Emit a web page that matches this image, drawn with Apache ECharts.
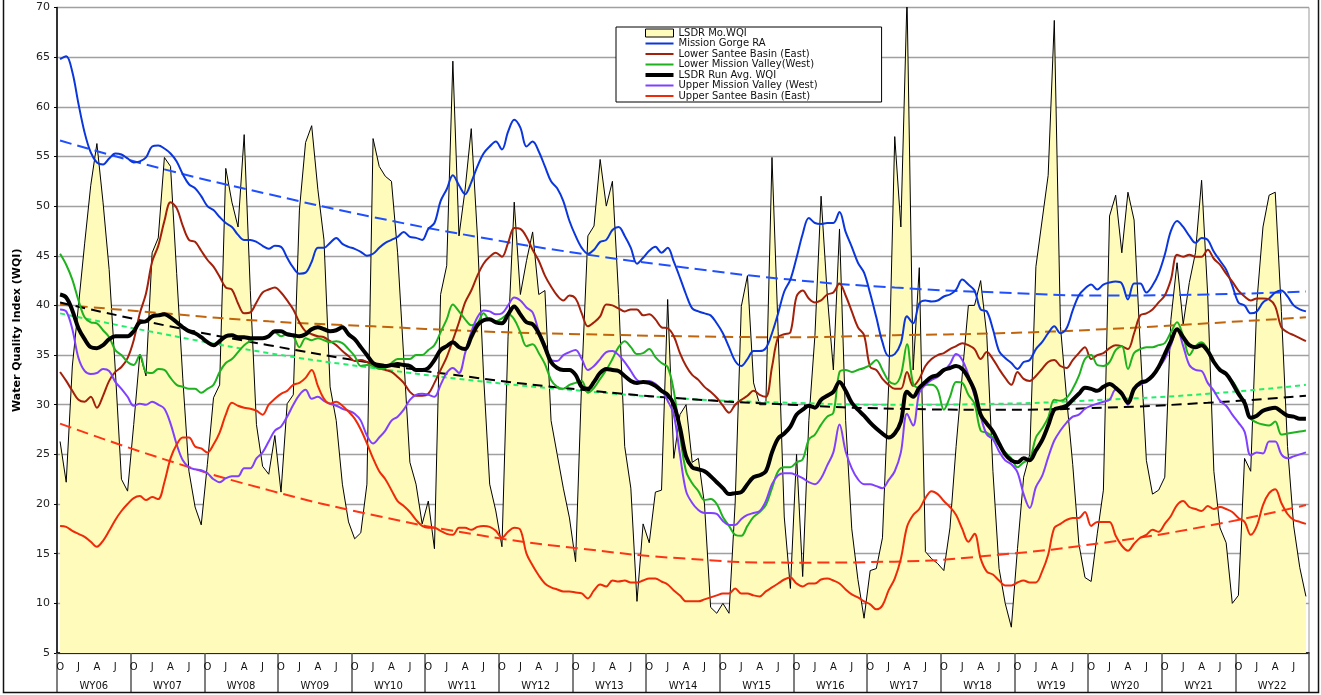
<!DOCTYPE html>
<html><head><meta charset="utf-8">
<script src="https://cdn.jsdelivr.net/npm/echarts@6/dist/echarts.min.js"></script>
<style>html,body{margin:0;padding:0;background:#fff}#c{width:1321px;height:695px}</style>
</head><body><div id="c"></div>
<script>
// ---------- categories ----------
const monthLetters = ['O','N','D','J','F','M','A','M','J','J','A','S'];
const waterYears = ['WY06','WY07','WY08','WY09','WY10','WY11','WY12','WY13','WY14','WY15','WY16','WY17','WY18','WY19','WY20','WY21','WY22'];
const yTicks = [5,10,15,20,25,30,35,40,45,50,55,60,65,70];

// ---------- series values (monthly, Oct 2005 .. Sep 2022) ----------
const lsdrMonthly = [
26.3,22.2,33.9,40,46.2,52.1,56.3,50.4,43.6,33.5,22.5,21.3,
28,35.1,32.9,45.3,46.8,54.9,54,43.2,32.6,23.3,19.7,17.9,
24,30.7,32,53.8,50.4,47.9,57.2,41.5,28,23.8,23,26.9,
21.2,30.1,31,49.6,56.4,58.1,51.7,46.6,31.8,28.4,22,18.2,
16.5,17.1,22,56.8,54,53,52.5,45.3,34.7,24.2,22,18,
20.3,15.5,41.1,44,64.6,47,51.7,57.8,47,33,22,19.3,
15.7,36.9,50.4,41.1,44.5,47.4,41.1,41.5,28.4,25,21.6,18.6,
14.2,32.6,47,48,54.7,50,52.5,41.1,25.8,21.6,10.2,18,
16.1,21.2,21.4,40.6,24.6,29,30,24.2,24.6,20,9.6,9,
10,9,20.1,39.9,43,32.2,30,30,54.9,37.4,18.7,11.5,
25,12.7,28.4,37,51,41.1,33.5,47.7,28.4,17.5,12.4,8.5,
13.3,13.5,16.6,31.8,57,47.9,71,33.5,43.8,15.2,14.5,14,
13.3,17.6,25.8,33,40,40,42.5,37,23.3,13.5,10,7.6,
15.5,22.7,25,43.9,48.5,53.1,68.7,37.9,30.7,24,16,12.6,
12.2,17,21.4,49,51.1,45.3,51.4,48.6,36,24.4,21,21.4,
22.7,38.6,44.3,38.1,42.3,45.3,52.6,41,23.3,17.6,16.1,10,
10.8,24.6,23.3,40.3,47.9,51.1,51.4,39.4,25.8,17.8,13.6,10.7];

const missionGorge = [
64.8,65.1,63.5,60.3,57.4,55.4,54.4,54.2,54.8,55.3,55.2,54.8,
54.4,54.5,54.9,56,56.1,55.8,55.3,54.5,53.2,52.2,51.8,51,
50,49.6,48.9,48.3,47.9,47.1,46.6,46.6,46.4,46,45.7,46,
45.9,44.8,43.8,43.2,43.3,44.4,45.8,45.8,46.3,46.8,46.2,45.9,
45.7,45.4,45,45.2,45.8,46.3,46.6,46.9,47.4,46.9,46.8,46.6,
47.7,48.3,50.5,51.7,53.1,52.1,51.2,52.4,54,55.3,56,56.5,
55.7,57.5,58.7,57.9,56,56.5,55.5,54,52.5,51.8,50.5,48.5,
47,45.8,45.2,45.6,46.4,46.6,47.6,47.9,47,45.8,44.2,44.8,
45.5,45.9,45.3,45.8,44.4,42.8,41.1,39.7,39.4,39.2,39,38.2,
37.2,35.8,34.4,33.9,34.6,35.4,35.4,35.7,37.2,39.2,41.4,42.6,
44.8,47.2,48.8,48.3,48.2,48.3,48.3,49.4,47.4,45.9,44.3,43.3,
41.2,38.8,36.3,34.9,35.1,36.2,38.9,38.2,40.2,40.5,40.4,40.5,
40.9,41.1,41.6,42.6,42.1,41.5,39.6,39.4,37.6,35.4,34.7,34.2,
33.6,34.3,34.5,35.6,36.3,37.2,37.9,37.2,37.7,39.5,41,41.7,
42.1,41.6,42.1,42.3,42.4,42.2,40.6,42.2,42.2,41.3,42,43.2,
45.1,47.5,48.5,47.9,47,46.3,46.8,46.6,45.4,44.5,43.6,42,
40.3,40,39.2,39.4,40.3,40.7,41.3,41.5,40.9,40,39.6,39.4];

const lowerSantee = [
33.3,32.4,31.4,30.5,30.3,30.8,29.7,30.9,32.4,33.3,33.8,34.7,
36.5,39.2,41.2,44.4,46,48.5,50.4,49.8,48,46.6,46.4,45.5,
44.6,43.9,42.9,41.8,41.6,40.2,39.2,39.3,40.3,41.3,41.6,41.8,
41.3,40.5,39.6,38.3,37.4,37.1,36.9,36.8,36.4,36,35.4,34.9,
34.4,34.5,34.3,34,33.7,33.5,33.3,32.8,32.2,31.3,30.9,30.9,
31.1,32.2,33.5,34.8,36.5,38.3,40.3,41.5,43,44.2,44.9,45.3,
44.9,46.3,47.8,47.7,46.9,45.6,44.5,43,41.9,41,40.5,41,
40.7,39.2,37.9,38.3,38.9,40.1,40,39.7,39.4,39.6,39.6,39,
39.1,38.6,37.8,37.7,36.9,35.2,33.9,33,32.5,31.8,31.3,30.7,
29.9,29.2,30,30.5,30.9,31.4,31,30.8,33.8,36.8,37.1,37.3,
40.9,41.5,40.7,40.3,40.5,41.1,41.3,42.2,41,39.4,37.8,37,
33.8,33.5,32.6,32,31.6,31.6,33.3,31.9,32.6,33.9,34.6,35,
35.2,35.6,35.9,36.2,36,35.6,34.6,35.3,34.6,33.6,32.7,32,
33.3,32.6,32.4,32.9,33.6,34.3,34.5,33.9,33.7,34.5,35.2,35.8,
34.6,35,35.2,35.7,36,35.9,35.6,37.2,39,39.2,39.6,40.3,
41,42.6,45.1,44.9,45.1,44.9,44.9,45.6,44.7,44.1,43.2,42.4,
41.5,40.9,40.5,40.7,40.7,40.6,39.9,37.8,37.3,37,36.7,36.4];

const lowerMissionValley = [
45.2,44.1,42.6,40.5,38.8,38.3,38.2,37.5,36.8,35.5,35,34.3,
34,35,33.3,33.2,33.6,33.5,32.7,32,31.8,31.6,31.6,31.2,
31.6,32,33.3,34.2,34.6,35.3,36,36.4,36.7,36.7,36.9,37.3,
36.9,37.1,36.9,35.8,36.7,36.5,36.7,36.5,36.3,36.4,36.2,35.6,
34.9,33.9,34,33.9,33.6,33.7,34.2,34.6,34.6,34.6,35,35,
35.5,36,37.3,38.6,40.1,39.4,38.6,38,38.2,39.2,38.5,38.4,
38.7,39.1,38.6,37.3,35.9,36.1,35.2,34.1,32.5,31.8,31.6,32,
32.2,32.4,31.2,31.7,32.6,33.5,34.6,35.8,36.4,35.8,35.1,35.2,
35.6,34.8,34.2,33.8,31.4,27,23.3,22.1,21.3,20.4,20.5,20,
18.7,17.8,16.9,16.8,17.8,18.7,19.2,19.9,21.6,23.3,23.7,23.7,
24.2,24.5,26.5,27,28,28.8,29.2,33.3,33.5,33.3,33.5,33.7,
34,34.5,33.5,32.4,32.1,33,36.1,32.1,31.7,32,32,31.5,
29.5,30.8,32.3,32.2,31,30.1,27.4,27.2,26.7,25.9,25.2,24.6,
23.7,24.2,24.5,26.7,27.6,28.7,30.5,30.4,30.7,31.6,32.9,34.6,
35,34,33.9,34.3,35.5,35.9,33.6,35.2,35.6,35.8,35.8,36,
36.2,37.3,38.3,36.9,35,35.9,36.3,35.6,34.3,33.5,33.1,32.4,
31.4,30.1,28.6,28.2,28,27.9,28.3,27,27.1,27.2,27.3,27.4];

const runAvg = [
41.1,40.8,39.5,37.7,36.6,35.8,35.7,36,36.6,36.9,36.9,36.9,
37.4,38.3,38.4,38.9,39,39.1,38.8,38.3,37.8,37.4,37.2,36.8,
36.3,36,36.4,36.9,37,36.8,36.8,36.7,36.7,36.7,36.9,37.4,
37.4,37.1,37,36.9,37.1,37.6,37.8,37.6,37.4,37.5,37.8,37.1,
36.6,35.8,35,34.2,33.9,33.9,34,34.1,34,33.9,33.5,33.5,
33.7,34.5,35.5,35.9,36.3,35.8,35.6,36.8,38,38.5,38.6,38.3,
38.2,39.1,39.9,39.1,38.3,38.1,37.2,35.8,34.3,33.7,33.5,33.5,
33,31.8,31.6,32.3,33.2,33.6,33.5,33.4,32.9,32.4,32.2,32.3,
32.2,31.9,31.4,31,30,27.7,24.8,23.7,23.5,23.3,22.8,22.2,
21.6,21,21.1,21.2,22,22.7,22.9,23.3,25.2,26.6,27.1,27.8,
29,29.5,29.9,29.7,30.5,30.9,31.3,32.3,31.4,30.2,29.5,28.9,
28.2,27.6,27.1,26.7,27.1,28.3,31.3,30.8,31.7,32.3,32.8,33,
33.5,33.7,33.9,33.6,32.7,31.4,29,28.1,27.3,26.1,25,24.4,
24.2,24.6,24.4,25.4,26.4,27.9,29.5,29.7,29.9,30.5,31.1,31.7,
31.6,31.4,31.8,32.1,31.7,31.1,30.2,31.6,32.2,32.4,32.9,33.8,
35.1,36.4,37.6,36.8,36,35.8,36,35.4,34.3,33.5,33.1,32.2,
31.1,30.2,28.7,28.9,29.4,29.6,29.7,29.3,28.9,28.8,28.6,28.6];

const upperMissionValley = [
39.6,39.4,37.6,34.7,33.4,33.1,33.2,33.6,33.4,32.3,31.6,30.8,
29.9,30.1,30,30.3,30,29.6,28.1,26,24.4,23.7,23.5,23.4,
23.1,22.5,22.2,22.6,22.8,22.8,23.6,23.6,24.6,25.2,26.3,27.4,
27.8,28.8,30,31,31.5,30.6,30.8,30.4,30.1,29.9,29.6,29.4,
29.1,28.4,26.9,26.1,26.7,27.4,28.4,28.8,29.5,30.5,31,31.1,
31,30.8,32,33.2,33.7,33.2,35.2,37.3,38.8,39.5,39.4,39.1,
39.2,40,40.8,40.5,39.8,39.3,37.4,36.1,34.5,34.4,35,35.3,
35.5,34.6,33.5,33.9,34.6,35.3,35.4,35,34.3,33.4,32.5,32.2,
32.4,32.1,31.5,30.4,29,25,21.3,20.1,19.4,19.1,19.1,19,
18.3,17.9,17.9,18.5,18.9,19.1,19.3,20.3,22,22.9,23.1,23.1,
22.9,22.6,22.2,22,22.6,23.9,25.2,28,25.3,23.6,22.5,22,
22,21.8,21.6,22.4,23.3,25.2,29.1,27.9,31.2,32,32.5,32.8,
33.4,34.1,35.1,34.5,33,30.9,28.8,27,26.5,25.3,24.4,24,
23.2,21,19.6,21.7,22.8,24.7,26.4,27.4,28.2,28.8,29,29.6,
29.9,30.1,30.3,30.5,31.5,31.3,30,31.6,32,32.4,33,33.7,
34.6,36,37.6,35.9,34,33.5,33.4,32.2,31.4,30.4,29.9,29,
28.2,27.3,24.9,25.2,25.1,26.3,26.3,25,24.6,24.8,25,25.2];

const upperSantee = [
17.8,17.7,17.3,17,16.7,16.2,15.7,16.3,17.3,18.4,19.3,20,
20.6,20.8,20.4,20.7,20.5,22.2,24.6,26,26.7,26.7,25.8,25.6,
25.2,26,27.2,29,30.2,29.9,29.7,29.6,29.4,29,30,30.6,
31.1,31.4,32,32.2,32.7,33.5,31.9,30.6,30.1,30.3,29.9,29.3,
28.6,27.5,26.1,24.6,23.3,22.5,21.4,20.3,19.8,19.2,18.4,17.8,
17.6,17.6,17.3,17,16.9,17.6,17.6,17.4,17.7,17.8,17.7,17.3,
16.6,17.2,17.6,17.4,15,13.8,12.8,12,11.6,11.4,11.2,11.2,
11.1,11,10.5,11.3,11.9,11.7,12.3,12.2,12.3,12.1,12.1,12.3,
12.5,12.5,12.2,11.9,11.3,10.8,10.2,10.2,10.2,10.4,10.6,10.8,
11,11,11.5,11,11,10.8,10.7,11.2,11.6,12,12.4,12.6,
12,11.7,12,12,12.4,12.5,12.3,12,11.4,10.9,10.6,10.2,
9.9,9.4,9.8,11.3,12.5,14.5,17.7,18.9,19.5,20.6,21.3,21,
20.3,19.7,18.9,17.5,16.2,17,14.5,13.2,12.9,12.3,11.8,11.8,
12.1,12.3,12.1,12.1,13.2,14.9,17.6,18,18.4,18.6,18.6,19.2,
17.8,18.2,18.2,18.2,16.8,15.8,15.3,16,16.6,16.9,17.4,17.2,
18,18.8,19.9,20.3,19.7,19.5,19.3,19.8,19.5,19.7,19.5,19.2,
18.6,18.2,16.9,17.8,19.9,21.1,21.5,20.1,19,18.4,18.2,18];

// ---------- trend lines (values read at these month indices) ----------
const trendMonths = [0,17,34,51,68,85,102,119,136,153,170,187,203];
const trendMissionGorge = [56.6,53.7,51.2,48.9,46.9,45.2,43.8,42.6,41.8,41.3,41.0,41.1,41.4];
const trendLowerSantee = [40.1,39.2,38.4,37.9,37.4,37.1,36.9,36.8,37.0,37.2,37.6,38.2,38.8];
const trendLowerMission = [39.2,37.1,35.2,33.7,32.4,31.4,30.6,30.2,30.0,30.1,30.5,31.1,32.0];
const trendRunAvg = [40.3,38.0,36.0,34.2,32.7,31.5,30.6,30.0,29.6,29.5,29.7,30.2,30.9];
const trendUpperSantee = [28.1,24.5,21.4,18.9,16.9,15.5,14.5,14.1,14.2,14.9,16.1,17.8,19.9];

// ---------- build chart ----------
const months = waterYears.flatMap(() => monthLetters);
const FONT = 'DejaVu Sans';
// legend line icons (thin / thick bars inside a 28x8 box)
const ICON_THIN = 'path://M0,0L0.5,0L0.5,0.01Z M0,8L0.5,8L0.5,7.99Z M0,3L28,3L28,5L0,5Z';
const ICON_THICK = 'path://M0,0L0.5,0L0.5,0.01Z M0,8L0.5,8L0.5,7.99Z M0,2L28,2L28,6L0,6Z';

function mainLine(name, data, color, width, z) {
  return { type:'line', name, data, symbol:'none', smooth:0.35, z,
    lineStyle:{color, width}, itemStyle:{color}, emphasis:{disabled:true} };
}
function trendLine(vals, color, dash, z) {
  return { type:'line', data: trendMonths.map((m,k)=>[m, vals[k]]), symbol:'none', smooth:true, z,
    silent:true, lineStyle:{color, width:2, type:dash}, itemStyle:{color}, emphasis:{disabled:true} };
}

const chart = echarts.init(document.getElementById('c'), null, {renderer:'canvas'});
chart.setOption({
  animation:false,
  backgroundColor:'#fff',
  grid:{left:57, right:12, top:7.5, bottom:42, show:true, borderColor:'#999', borderWidth:1},
  graphic:[{type:'rect', silent:true, z:100,
    shape:{x:3.5, y:-5, width:1315, height:697.5}, style:{fill:'none', stroke:'#111', lineWidth:1.5}}],
  legend:{
    orient:'vertical', left:616, top:27, selectedMode:false, z:20,
    padding:[1,64,1,29], itemGap:0.5, itemWidth:28, itemHeight:8,
    backgroundColor:'#fff', borderColor:'#000', borderWidth:1,
    textStyle:{fontFamily:FONT, fontSize:10, color:'#111', lineHeight:10},
    data:[
      {name:'LSDR Mo.WQI', icon:'rect', itemStyle:{color:'#FFFBBB', borderColor:'#000', borderWidth:1}},
      {name:'Mission Gorge RA', icon:ICON_THIN},
      {name:'Lower Santee Basin (East)', icon:ICON_THIN},
      {name:'Lower Mission Valley(West)', icon:ICON_THIN},
      {name:'LSDR Run Avg. WQI', icon:ICON_THICK},
      {name:'Upper Mission Valley (West)', icon:ICON_THIN},
      {name:'Upper Santee Basin (East)', icon:ICON_THIN}
    ]
  },
  xAxis:[
    { type:'category', data:months, boundaryGap:true,
      axisLine:{lineStyle:{color:'#000', width:1.5}},
      axisTick:{show:false},
      axisLabel:{interval:(i)=>i%3===0, fontFamily:FONT, fontSize:10, color:'#111', margin:9} },
    { type:'category', data:waterYears, boundaryGap:true, position:'bottom',
      axisLine:{show:false},
      axisTick:{show:true, length:39, interval:0, lineStyle:{color:'#555', width:1.5}},
      axisLabel:{fontFamily:FONT, fontSize:10, color:'#111', margin:28} }
  ],
  yAxis:{ type:'value', min:yTicks[0], max:yTicks[yTicks.length-1], interval:5,
    name:'Water Quality Index (WQI)', nameLocation:'middle', nameGap:34,
    nameTextStyle:{fontFamily:FONT, fontSize:11, fontWeight:'bold', color:'#000'},
    axisLine:{show:true, lineStyle:{color:'#000', width:1.5}},
    axisTick:{show:true, length:3, lineStyle:{color:'#000'}},
    axisLabel:{fontFamily:FONT, fontSize:11, color:'#222', margin:7},
    splitLine:{lineStyle:{color:'#a0a0a0', width:1.3}} },
  series:[
    { type:'line', name:'LSDR Mo.WQI', data:lsdrMonthly, symbol:'none', z:1,
      lineStyle:{color:'#000', width:1}, itemStyle:{color:'#FFFBBB'},
      areaStyle:{color:'#FFFBBB', opacity:1, origin:'start'}, emphasis:{disabled:true} },
    trendLine(trendMissionGorge, '#1f4fff', [12,6], 2),
    trendLine(trendLowerSantee, '#c0650c', [11,6], 2),
    trendLine(trendLowerMission, '#22ee6a', [5,4], 2),
    trendLine(trendRunAvg, '#000000', [10,6], 2),
    trendLine(trendUpperSantee, '#ff3315', [12,6], 2),
    mainLine('Mission Gorge RA', missionGorge, '#0a36dc', 2, 3),
    mainLine('Lower Santee Basin (East)', lowerSantee, '#a3200a', 2, 3),
    mainLine('Lower Mission Valley(West)', lowerMissionValley, '#1eb21e', 2, 3),
    mainLine('Upper Mission Valley (West)', upperMissionValley, '#8040ff', 2, 3),
    mainLine('Upper Santee Basin (East)', upperSantee, '#ee2a08', 2, 3),
    mainLine('LSDR Run Avg. WQI', runAvg, '#000000', 4, 4)
  ]
});
</script></body></html>
